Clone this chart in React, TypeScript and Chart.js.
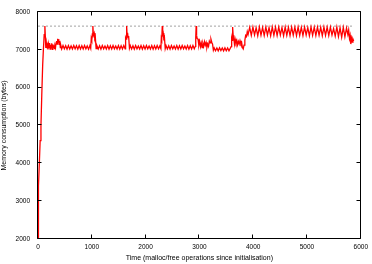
import React, { useEffect, useRef } from "react";
import { Chart, registerables } from "chart.js";

Chart.register(...registerables);

const xTicks = [0, 1000, 2000, 3000, 4000, 5000, 6000];
const yTicks = [2000, 3000, 4000, 5000, 6000, 7000, 8000];
const xTitle = "Time (malloc/free operations since initialisation)";
const yTitle = "Memory consumption (bytes)";
const peakBytes = 7625;
const peakLineEnd = 5870;

// [operations, bytes]
const startup: [number, number][] = [
  [0, 2000], [4, 2600], [8, 3000], [14, 3400], [25, 4000], [40, 4600], [55, 5000], [70, 5800],
  [87, 6600], [100, 7000], [115, 7400], [128, 7625], [138, 7300], [145, 7050],
];
const earlyNoise: [number, number][] = [
  [155, 7180], [165, 7040], [175, 7120], [185, 7010], [195, 7150], [205, 7060], [215, 7180], [225, 7020],
  [235, 7130], [245, 7050], [255, 7170], [265, 7010], [275, 7140], [285, 7060], [295, 7120], [305, 7030],
  [315, 7100], [325, 7050], [335, 7180], [345, 7230], [355, 7150], [365, 7290], [375, 7200], [385, 7280],
  [395, 7140], [405, 7230], [415, 7060], [425, 7110],
];
const band1: [number, number][] = [
  [440, 7020], [465, 7110], [490, 7025], [515, 7105], [540, 7015], [565, 7110], [590, 7020], [615, 7100],
  [640, 7020], [665, 7110], [690, 7025], [715, 7105], [740, 7015], [765, 7110], [790, 7020], [815, 7105],
  [840, 7020], [865, 7110], [890, 7025], [915, 7100], [940, 7015], [965, 7110],
];
const spike1: [number, number][] = [
  [980, 7040], [990, 7300], [1000, 7250], [1010, 7420], [1020, 7625], [1030, 7380], [1045, 7440],
  [1055, 7300], [1065, 7350], [1080, 7030],
];
const band2: [number, number][] = [
  [1095, 7110], [1120, 7020], [1145, 7105], [1170, 7015], [1195, 7110], [1220, 7025], [1245, 7100],
  [1270, 7020], [1295, 7110], [1320, 7015], [1345, 7105], [1370, 7020], [1395, 7110], [1420, 7025],
  [1445, 7100], [1470, 7020], [1495, 7110], [1520, 7015], [1545, 7105], [1570, 7020], [1595, 7110],
  [1620, 7025],
];
const spike2: [number, number][] = [
  [1625, 7060], [1632, 7320], [1640, 7280], [1648, 7625], [1656, 7400], [1665, 7450], [1675, 7320],
  [1685, 7360], [1700, 7040],
];
const band3: [number, number][] = [
  [1715, 7110], [1740, 7020], [1765, 7105], [1790, 7015], [1815, 7110], [1840, 7025], [1865, 7100],
  [1890, 7020], [1915, 7110], [1940, 7015], [1965, 7105], [1990, 7020], [2015, 7110], [2040, 7025],
  [2065, 7100], [2090, 7020], [2115, 7110], [2140, 7015], [2165, 7105], [2190, 7020], [2215, 7110],
  [2240, 7025], [2265, 7100], [2285, 7030],
];
const spike3: [number, number][] = [
  [2292, 7300], [2300, 7260], [2310, 7625], [2318, 7400], [2328, 7440], [2338, 7300], [2350, 7340],
  [2365, 7030],
];
const band4: [number, number][] = [
  [2380, 7110], [2405, 7020], [2430, 7105], [2455, 7015], [2480, 7110], [2505, 7025], [2530, 7100],
  [2555, 7020], [2580, 7110], [2605, 7015], [2630, 7105], [2655, 7020], [2680, 7110], [2705, 7025],
  [2730, 7100], [2755, 7020], [2780, 7110], [2805, 7015], [2830, 7105], [2855, 7020], [2880, 7110],
  [2905, 7025], [2925, 7090],
];
const spike4: [number, number][] = [
  [2932, 7320], [2940, 7625], [2948, 7380], [2958, 7300], [2975, 7280], [2990, 7120], [3005, 7220],
  [3020, 7080], [3035, 7180], [3050, 7060], [3065, 7170], [3080, 7090], [3095, 7210], [3110, 7120],
  [3125, 7190], [3140, 7060], [3155, 7150], [3170, 7090], [3185, 7230], [3200, 7180], [3215, 7280],
  [3230, 7200], [3245, 7150], [3260, 6990],
];
const band5: [number, number][] = [
  [3275, 7050], [3300, 6975], [3325, 7045], [3350, 6970], [3375, 7050], [3400, 6980], [3425, 7045],
  [3450, 6970], [3475, 7050], [3500, 6975], [3525, 7045], [3550, 6970], [3575, 7040],
];
const spike5: [number, number][] = [
  [3590, 7080], [3600, 7300], [3608, 7250], [3618, 7600], [3628, 7380], [3640, 7300], [3652, 7150],
  [3665, 7280], [3680, 7180], [3695, 7250], [3710, 7130], [3725, 7220], [3740, 7150], [3755, 7240],
  [3770, 7160], [3785, 7200], [3800, 7060], [3815, 7020], [3830, 7120], [3845, 7250], [3860, 7380],
  [3875, 7350], [3890, 7480],
];
const upperBand: [number, number][] = [
  [3905, 7400], [3935, 7590], [3965, 7380], [3995, 7600], [4025, 7390], [4055, 7580], [4085, 7370],
  [4115, 7600], [4145, 7385], [4175, 7590], [4205, 7375], [4235, 7600], [4265, 7390], [4295, 7585],
  [4325, 7370], [4355, 7600], [4385, 7380], [4415, 7595], [4445, 7375], [4475, 7600], [4505, 7390],
  [4535, 7585], [4565, 7370], [4595, 7600], [4625, 7380], [4655, 7590], [4685, 7375], [4715, 7600],
  [4745, 7385], [4775, 7595], [4805, 7370], [4835, 7600], [4865, 7380], [4895, 7590], [4925, 7375],
  [4955, 7600], [4985, 7390], [5015, 7585], [5045, 7370], [5075, 7600], [5105, 7380], [5135, 7595],
  [5165, 7375], [5195, 7600], [5225, 7385], [5255, 7590], [5285, 7370], [5315, 7600], [5345, 7380],
  [5375, 7595], [5405, 7375], [5435, 7600], [5465, 7390], [5495, 7560], [5525, 7360], [5555, 7600],
  [5585, 7350], [5615, 7580], [5645, 7330], [5675, 7590], [5705, 7340], [5735, 7570], [5760, 7400],
];
const ending: [number, number][] = [
  [5775, 7520], [5790, 7300], [5802, 7380], [5815, 7150], [5828, 7300], [5842, 7200], [5855, 7280],
  [5868, 7230],
];

const segments = [
  startup, earlyNoise, band1, spike1, band2, spike2, band3, spike3, band4, spike4, band5, spike5,
  upperBand, ending,
];

const framePlugin = {
  id: "gnuplotFrame",
  afterDraw(chart: any) {
    const { ctx, chartArea, scales } = chart;
    const { left, right, top, bottom } = chartArea;
    const L = Math.round(left) - 0.5;
    const R = Math.round(right) - 0.5;
    const T = Math.round(top) - 0.5;
    const B = Math.round(bottom) - 0.5;
    ctx.save();
    ctx.strokeStyle = "#000";
    ctx.lineWidth = 1;
    ctx.beginPath();
    ctx.rect(L, T, R - L, B - T);
    const len = 4;
    xTicks.forEach((v) => {
      const px = Math.round(scales.x.getPixelForValue(v)) - 0.5;
      ctx.moveTo(px, B);
      ctx.lineTo(px, B - len);
      ctx.moveTo(px, T);
      ctx.lineTo(px, T + len);
    });
    yTicks.forEach((v) => {
      const py = Math.round(scales.y.getPixelForValue(v)) - 0.5;
      ctx.moveTo(L, py);
      ctx.lineTo(L + len, py);
      ctx.moveTo(R, py);
      ctx.lineTo(R - len, py);
    });
    ctx.stroke();
    ctx.restore();
  },
};

export default function App() {
  const ref = useRef<HTMLCanvasElement | null>(null);
  useEffect(() => {
    document.body.style.margin = "0";
    const canvas = ref.current;
    if (!canvas) return;
    const series = segments.flat().map(([x, y]) => ({ x, y }));
    const tickFont = { family: "'Liberation Sans', Arial, sans-serif", size: 6.5 };
    const titleFont = { family: "'Liberation Sans', Arial, sans-serif", size: 7 };
    const plain = (v: any) => String(v);
    const chart = new Chart(canvas, {
      type: "line",
      data: {
        datasets: [
          {
            data: series,
            borderColor: "#ff0000",
            borderWidth: 1.3,
            pointRadius: 0,
            tension: 0,
            fill: false,
          },
          {
            data: [
              { x: 0, y: peakBytes },
              { x: peakLineEnd, y: peakBytes },
            ],
            borderColor: "#8a8a8a",
            borderWidth: 0.8,
            borderDash: [2, 2],
            pointRadius: 0,
            fill: false,
          },
        ],
      },
      options: {
        animation: false,
        responsive: false,
        maintainAspectRatio: false,
        layout: { padding: { top: 7, right: 10, left: 0, bottom: 0 } },
        plugins: { legend: { display: false }, tooltip: { enabled: false } },
        scales: {
          x: {
            type: "linear",
            min: 0,
            max: 6000,
            afterBuildTicks: (s: any) => {
              s.ticks = xTicks.map((v) => ({ value: v }));
            },
            afterFit: (s: any) => {
              s.height = 25;
            },
            ticks: { font: tickFont, color: "#000", padding: 4, maxRotation: 0, autoSkip: false, callback: plain },
            grid: { display: false, drawTicks: false },
            border: { display: false },
            title: { display: true, text: xTitle, font: titleFont, color: "#000", padding: { top: 0, bottom: 2 } },
          },
          y: {
            type: "linear",
            min: 2000,
            max: 8000,
            afterBuildTicks: (s: any) => {
              s.ticks = yTicks.map((v) => ({ value: v }));
            },
            afterFit: (s: any) => {
              s.width = 38;
            },
            ticks: { font: tickFont, color: "#000", padding: 8, autoSkip: false, callback: plain },
            grid: { display: false, drawTicks: false },
            border: { display: false },
            title: { display: true, text: yTitle, font: titleFont, color: "#000", padding: { top: 0, bottom: 0 } },
          },
        },
      },
      plugins: [framePlugin],
    });
    return () => chart.destroy();
  }, []);
  return (
    <div style={{ width: 372, height: 264, position: "relative" }}>
      <canvas ref={ref} width={372} height={264} style={{ display: "block" }} />
    </div>
  );
}
